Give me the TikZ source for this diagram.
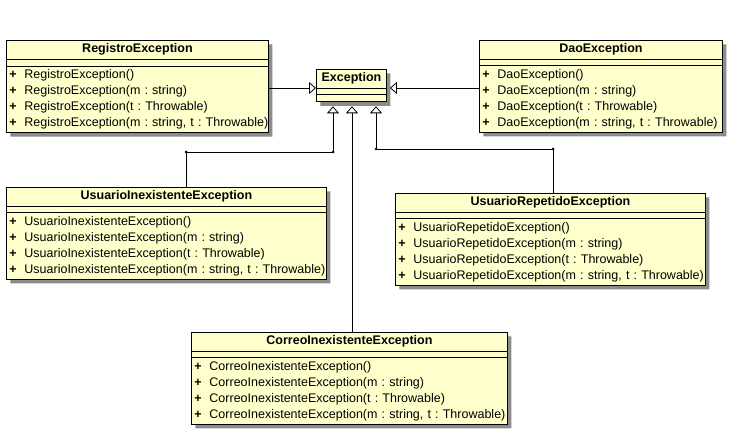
\documentclass[tikz,border=0pt]{standalone}
\usepackage{fontspec}
\setmainfont{Liberation Sans}
\usepackage{xcolor}
\usepackage{tikz}
\usetikzlibrary{shapes.multipart, arrows.meta, shadows}

\definecolor{umlyellow}{RGB}{255,255,204}
\newcommand{\umlop}[1]{\mbox{\makebox[15pt][l]{\textbf{+}}#1}}
\newcommand{\umltitle}[1]{\centering\textbf{#1}\par}

\begin{document}
\frenchspacing
\begin{tikzpicture}[
    x=1pt, y=-1pt,
    class_node/.style={
        rectangle split,
        rectangle split parts=3,
        rectangle split empty part height=1pt,
        draw=black,
        fill=umlyellow,
        line width=0.9pt,
        text width=#1,
        inner xsep=3pt,
        inner ysep=3pt,
        align=left,
        anchor=north west,
        font=\fontsize{12.5}{16}\selectfont\frenchspacing,
        drop shadow={shadow xshift=4pt, shadow yshift=-4pt, fill=black!45, opacity=1}
    },
    arrow_inherit/.style={
        -{Triangle[open, width=12pt, length=7pt]},
        line width=0.8pt,
        color=black
    }
]
    \useasboundingbox (0,0) rectangle (737,441);

    % Class Nodes
    \node (reg) [class_node=256pt] at (6,40) {
        \umltitle{RegistroException}
        \nodepart{two}
        \nodepart{three}
        \umlop{RegistroException()}\\
        \umlop{RegistroException(m : string)}\\
        \umlop{RegistroException(t : Throwable)}\\
        \umlop{RegistroException(m : string, t : Throwable)}
    };

    \node (exc) [class_node=64pt] at (316,69) {
        \umltitle{Exception}
        \nodepart{two}
        \nodepart{three}
    };

    \node (dao) [class_node=237pt] at (479,40) {
        \umltitle{DaoException}
        \nodepart{two}
        \nodepart{three}
        \umlop{DaoException()}\\
        \umlop{DaoException(m : string)}\\
        \umlop{DaoException(t : Throwable)}\\
        \umlop{DaoException(m : string, t : Throwable)}
    };

    \node (uin) [class_node=314pt] at (6,187) {
        \umltitle{UsuarioInexistenteException}
        \nodepart{two}
        \nodepart{three}
        \umlop{UsuarioInexistenteException()}\\
        \umlop{UsuarioInexistenteException(m : string)}\\
        \umlop{UsuarioInexistenteException(t : Throwable)}\\
        \umlop{UsuarioInexistenteException(m : string, t : Throwable)}
    };

    \node (rep) [class_node=304pt] at (395,193) {
        \umltitle{UsuarioRepetidoException}
        \nodepart{two}
        \nodepart{three}
        \umlop{UsuarioRepetidoException()}\\
        \umlop{UsuarioRepetidoException(m : string)}\\
        \umlop{UsuarioRepetidoException(t : Throwable)}\\
        \umlop{UsuarioRepetidoException(m : string, t : Throwable)}
    };

    \node (cor) [class_node=310pt] at (191,332) {
        \umltitle{CorreoInexistenteException}
        \nodepart{two}
        \nodepart{three}
        \umlop{CorreoInexistenteException()}\\
        \umlop{CorreoInexistenteException(m : string)}\\
        \umlop{CorreoInexistenteException(t : Throwable)}\\
        \umlop{CorreoInexistenteException(m : string, t : Throwable)}
    };

    % Bend points
    \coordinate (exc_base) at ([yshift=-4pt]exc.south);
    \coordinate (k_inex) at (186,152);
    \coordinate (j_inex) at (333,152);
    \coordinate (j_cor) at (352,300);
    \coordinate (j_rep) at (376,149);
    \coordinate (k_rep) at (553,149);

    % Inheritance Connections
    \draw [arrow_inherit] (reg.east |- exc.text split west) -- (exc.text split west);
    \draw [arrow_inherit] (dao.west |- exc.text split east) -- ([xshift=3pt]exc.text split east);
    \draw [arrow_inherit] (k_inex |- uin.north) -- (k_inex) -- (j_inex) -- (j_inex |- exc_base);
    \draw [arrow_inherit] (j_cor |- cor.north) -- (j_cor |- exc_base);
    \draw [arrow_inherit] (k_rep |- rep.north) -- (k_rep) -- (j_rep) -- (j_rep |- exc_base);

    \foreach \p in {k_inex, j_inex, j_rep, k_rep}
        \fill (\p) circle (1.5pt);

\end{tikzpicture}
\end{document}
